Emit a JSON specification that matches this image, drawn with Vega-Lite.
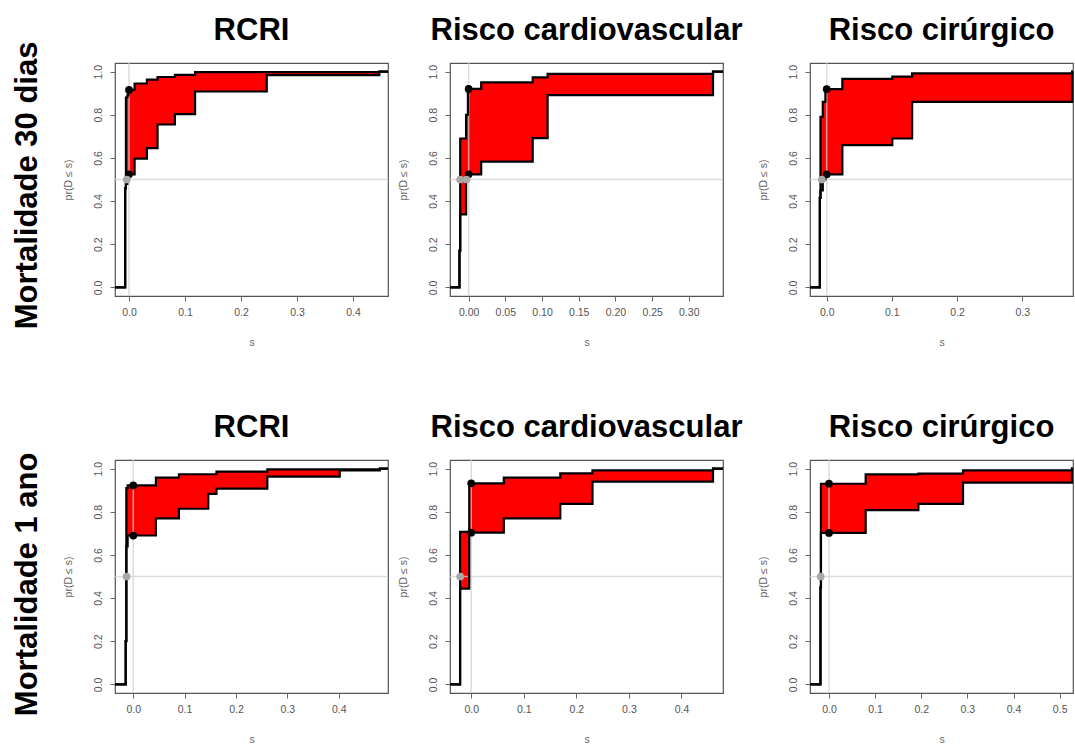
{
  "$schema": "https://vega.github.io/schema/vega-lite/v6.json",
  "background": "white",
  "padding": {"left": 12, "top": 14, "right": 0, "bottom": 0},
  "datasets": {
    "curves": [
      {"panel": 1, "s": -0.025, "lo": 0, "hi": 0},
      {"panel": 1, "s": -0.0068, "lo": 0.46, "hi": 0.46},
      {"panel": 1, "s": -0.0055, "lo": 0.48, "hi": 0.88},
      {"panel": 1, "s": -0.003, "lo": 0.5, "hi": 0.89},
      {"panel": 1, "s": -0.001, "lo": 0.524, "hi": 0.915},
      {"panel": 1, "s": 0.01, "lo": 0.597, "hi": 0.945},
      {"panel": 1, "s": 0.032, "lo": 0.645, "hi": 0.963},
      {"panel": 1, "s": 0.051, "lo": 0.755, "hi": 0.975},
      {"panel": 1, "s": 0.082, "lo": 0.803, "hi": 0.985},
      {"panel": 1, "s": 0.118, "lo": 0.908, "hi": 0.998},
      {"panel": 1, "s": 0.246, "lo": 0.984, "hi": 0.998},
      {"panel": 1, "s": 0.447, "lo": 1, "hi": 1},
      {"panel": 1, "s": 0.4625, "lo": 1, "hi": 1},

      {"panel": 2, "s": -0.0254, "lo": 0, "hi": 0},
      {"panel": 2, "s": -0.0125, "lo": 0.17, "hi": 0.17},
      {"panel": 2, "s": -0.0115, "lo": 0.338, "hi": 0.69},
      {"panel": 2, "s": -0.0035, "lo": 0.5, "hi": 0.8},
      {"panel": 2, "s": -0.001, "lo": 0.524, "hi": 0.92},
      {"panel": 2, "s": 0.0171, "lo": 0.583, "hi": 0.95},
      {"panel": 2, "s": 0.0873, "lo": 0.692, "hi": 0.973},
      {"panel": 2, "s": 0.1076, "lo": 0.891, "hi": 0.99},
      {"panel": 2, "s": 0.333, "lo": 1, "hi": 1},
      {"panel": 2, "s": 0.3466, "lo": 1, "hi": 1},

      {"panel": 3, "s": -0.0256, "lo": 0, "hi": 0},
      {"panel": 3, "s": -0.0105, "lo": 0.415, "hi": 0.415},
      {"panel": 3, "s": -0.0095, "lo": 0.45, "hi": 0.79},
      {"panel": 3, "s": -0.006, "lo": 0.5, "hi": 0.86},
      {"panel": 3, "s": -0.002, "lo": 0.524, "hi": 0.919},
      {"panel": 3, "s": 0.024, "lo": 0.659, "hi": 0.966},
      {"panel": 3, "s": 0.1006, "lo": 0.69, "hi": 0.977},
      {"panel": 3, "s": 0.131, "lo": 0.86, "hi": 0.992},
      {"panel": 3, "s": 0.3766, "lo": 1, "hi": 1},
      {"panel": 3, "s": 0.3777, "lo": 1, "hi": 1},

      {"panel": 4, "s": -0.0356, "lo": 0, "hi": 0},
      {"panel": 4, "s": -0.0148, "lo": 0.2, "hi": 0.2},
      {"panel": 4, "s": -0.0135, "lo": 0.64, "hi": 0.91},
      {"panel": 4, "s": -0.011, "lo": 0.69, "hi": 0.922},
      {"panel": 4, "s": 0.044, "lo": 0.769, "hi": 0.958},
      {"panel": 4, "s": 0.0889, "lo": 0.814, "hi": 0.974},
      {"panel": 4, "s": 0.146, "lo": 0.883, "hi": 0.974},
      {"panel": 4, "s": 0.162, "lo": 0.907, "hi": 0.986},
      {"panel": 4, "s": 0.261, "lo": 0.963, "hi": 0.997},
      {"panel": 4, "s": 0.402, "lo": 0.992, "hi": 0.997},
      {"panel": 4, "s": 0.48, "lo": 1, "hi": 1},
      {"panel": 4, "s": 0.496, "lo": 1, "hi": 1},

      {"panel": 5, "s": -0.0404, "lo": 0, "hi": 0},
      {"panel": 5, "s": -0.0212, "lo": 0.444, "hi": 0.707},
      {"panel": 5, "s": -0.0038, "lo": 0.703, "hi": 0.932},
      {"panel": 5, "s": 0.062, "lo": 0.769, "hi": 0.958},
      {"panel": 5, "s": 0.1694, "lo": 0.837, "hi": 0.978},
      {"panel": 5, "s": 0.2307, "lo": 0.94, "hi": 0.992},
      {"panel": 5, "s": 0.46, "lo": 1, "hi": 1},
      {"panel": 5, "s": 0.479, "lo": 1, "hi": 1},

      {"panel": 6, "s": -0.0412, "lo": 0, "hi": 0},
      {"panel": 6, "s": -0.0185, "lo": 0.45, "hi": 0.45},
      {"panel": 6, "s": -0.0175, "lo": 0.702, "hi": 0.93},
      {"panel": 6, "s": 0.0795, "lo": 0.808, "hi": 0.973},
      {"panel": 6, "s": 0.1937, "lo": 0.837, "hi": 0.977},
      {"panel": 6, "s": 0.2905, "lo": 0.935, "hi": 0.992},
      {"panel": 6, "s": 0.5267, "lo": 1, "hi": 1},
      {"panel": 6, "s": 0.5289, "lo": 1, "hi": 1}
    ],
    "points": [
      {"panel": 1, "s": 0, "p": 0.915, "kind": "a"},
      {"panel": 1, "s": 0, "p": 0.524, "kind": "a"},
      {"panel": 1, "s": -0.004, "p": 0.5, "kind": "b"},
      {"panel": 2, "s": 0, "p": 0.92, "kind": "a"},
      {"panel": 2, "s": 0, "p": 0.524, "kind": "a"},
      {"panel": 2, "s": -0.0115, "p": 0.5, "kind": "b"},
      {"panel": 2, "s": -0.003, "p": 0.5, "kind": "b"},
      {"panel": 3, "s": 0, "p": 0.919, "kind": "a"},
      {"panel": 3, "s": 0, "p": 0.524, "kind": "a"},
      {"panel": 3, "s": -0.0075, "p": 0.5, "kind": "b"},
      {"panel": 4, "s": 0, "p": 0.922, "kind": "a"},
      {"panel": 4, "s": 0, "p": 0.69, "kind": "a"},
      {"panel": 4, "s": -0.013, "p": 0.5, "kind": "b"},
      {"panel": 5, "s": 0, "p": 0.932, "kind": "a"},
      {"panel": 5, "s": 0, "p": 0.703, "kind": "a"},
      {"panel": 5, "s": -0.021, "p": 0.5, "kind": "b"},
      {"panel": 6, "s": 0, "p": 0.93, "kind": "a"},
      {"panel": 6, "s": 0, "p": 0.702, "kind": "a"},
      {"panel": 6, "s": -0.018, "p": 0.5, "kind": "b"}
    ]
  },
  "config": {
    "view": {"stroke": "#555555", "strokeWidth": 1.2},
    "axis": {"grid": false, "domain": false, "tickColor": "#666666", "tickSize": 5, "labelFontSize": 10.5, "labelColor": "#555555", "labelFont": "Liberation Sans", "titleFont": "Liberation Sans", "titleFontSize": 10.5, "titleFontWeight": "normal", "titleColor": "#666666"},
    "axisX": {"labelPadding": 6.5, "titlePadding": 19},
    "axisY": {"labelAngle": -90, "labelAlign": "center", "labelBaseline": "bottom", "labelPadding": 7, "titlePadding": 20},
    "title": {"font": "Liberation Sans", "fontSize": 31, "fontWeight": "bold", "color": "#000000", "baseline": "alphabetic", "offset": 15, "anchor": "middle"}
  },
  "spacing": 62,
  "vconcat": [
    {
      "title": {"text": "Mortalidade 30 dias", "orient": "left", "anchor": "middle", "offset": 24, "dy": 6, "dx": -4},
      "spacing": 4,
      "hconcat": [
        {
          "width": 273, "height": 233, "title": {"text": "RCRI"},
          "data": {"name": "curves"}, "transform": [{"filter": "datum.panel == 1"}],
          "layer": [
            {"mark": {"type": "area", "interpolate": "step-after", "color": "#ff0000"},
             "encoding": {
               "x": {"field": "s", "type": "quantitative", "scale": {"domain": [-0.025, 0.4625], "nice": false, "zero": false}, "axis": {"values": [0, 0.1, 0.2, 0.3, 0.4], "format": ".1f", "title": "s"}},
               "y": {"field": "lo", "type": "quantitative", "scale": {"domain": [-0.04, 1.04], "nice": false, "zero": false}, "axis": {"values": [0, 0.2, 0.4, 0.6, 0.8, 1], "format": ".1f", "title": "pr(D ≤ s)"}},
               "y2": {"field": "hi"}}},
            {"data": {"values": [{}]}, "mark": {"type": "rule", "color": "#d0d0d0", "strokeWidth": 1.5, "opacity": 0.75}, "encoding": {"y": {"datum": 0.5}}},
            {"data": {"values": [{}]}, "mark": {"type": "rule", "color": "#d0d0d0", "strokeWidth": 1.5, "opacity": 0.75}, "encoding": {"x": {"datum": 0}}},
            {"mark": {"type": "line", "interpolate": "step-after", "color": "#000000", "strokeWidth": 2.2}, "encoding": {"x": {"field": "s", "type": "quantitative"}, "y": {"field": "lo", "type": "quantitative"}}},
            {"mark": {"type": "line", "interpolate": "step-after", "color": "#000000", "strokeWidth": 2.2}, "encoding": {"x": {"field": "s", "type": "quantitative"}, "y": {"field": "hi", "type": "quantitative"}}},
            {"data": {"name": "points"}, "transform": [{"filter": "datum.panel == 1"}], "mark": {"type": "point", "filled": true, "size": 60, "opacity": 1},
             "encoding": {"x": {"field": "s", "type": "quantitative"}, "y": {"field": "p", "type": "quantitative"}, "color": {"field": "kind", "type": "nominal", "scale": {"domain": ["a", "b"], "range": ["#000000", "#a8a8a8"]}, "legend": null}}}
          ]
        },
        {
          "spacing": 13,
          "hconcat": [
            {
              "width": 273, "height": 233, "title": {"text": "Risco cardiovascular"},
              "data": {"name": "curves"}, "transform": [{"filter": "datum.panel == 2"}],
              "layer": [
                {"mark": {"type": "area", "interpolate": "step-after", "color": "#ff0000"},
                 "encoding": {
                   "x": {"field": "s", "type": "quantitative", "scale": {"domain": [-0.0254, 0.3466], "nice": false, "zero": false}, "axis": {"values": [0, 0.05, 0.1, 0.15, 0.2, 0.25, 0.3], "format": ".2f", "title": "s"}},
                   "y": {"field": "lo", "type": "quantitative", "scale": {"domain": [-0.04, 1.04], "nice": false, "zero": false}, "axis": {"values": [0, 0.2, 0.4, 0.6, 0.8, 1], "format": ".1f", "title": "pr(D ≤ s)"}},
                   "y2": {"field": "hi"}}},
                {"data": {"values": [{}]}, "mark": {"type": "rule", "color": "#d0d0d0", "strokeWidth": 1.5, "opacity": 0.75}, "encoding": {"y": {"datum": 0.5}}},
                {"data": {"values": [{}]}, "mark": {"type": "rule", "color": "#d0d0d0", "strokeWidth": 1.5, "opacity": 0.75}, "encoding": {"x": {"datum": 0}}},
                {"mark": {"type": "line", "interpolate": "step-after", "color": "#000000", "strokeWidth": 2.2}, "encoding": {"x": {"field": "s", "type": "quantitative"}, "y": {"field": "lo", "type": "quantitative"}}},
                {"mark": {"type": "line", "interpolate": "step-after", "color": "#000000", "strokeWidth": 2.2}, "encoding": {"x": {"field": "s", "type": "quantitative"}, "y": {"field": "hi", "type": "quantitative"}}},
                {"data": {"name": "points"}, "transform": [{"filter": "datum.panel == 2"}], "mark": {"type": "point", "filled": true, "size": 60, "opacity": 1},
                 "encoding": {"x": {"field": "s", "type": "quantitative"}, "y": {"field": "p", "type": "quantitative"}, "color": {"field": "kind", "type": "nominal", "scale": {"domain": ["a", "b"], "range": ["#000000", "#a8a8a8"]}, "legend": null}}}
              ]
            },
            {
              "width": 263, "height": 233, "title": {"text": "Risco cirúrgico"},
              "data": {"name": "curves"}, "transform": [{"filter": "datum.panel == 3"}],
              "layer": [
                {"mark": {"type": "area", "interpolate": "step-after", "color": "#ff0000"},
                 "encoding": {
                   "x": {"field": "s", "type": "quantitative", "scale": {"domain": [-0.0256, 0.3777], "nice": false, "zero": false}, "axis": {"values": [0, 0.1, 0.2, 0.3], "format": ".1f", "title": "s"}},
                   "y": {"field": "lo", "type": "quantitative", "scale": {"domain": [-0.04, 1.04], "nice": false, "zero": false}, "axis": {"values": [0, 0.2, 0.4, 0.6, 0.8, 1], "format": ".1f", "title": "pr(D ≤ s)"}},
                   "y2": {"field": "hi"}}},
                {"data": {"values": [{}]}, "mark": {"type": "rule", "color": "#d0d0d0", "strokeWidth": 1.5, "opacity": 0.75}, "encoding": {"y": {"datum": 0.5}}},
                {"data": {"values": [{}]}, "mark": {"type": "rule", "color": "#d0d0d0", "strokeWidth": 1.5, "opacity": 0.75}, "encoding": {"x": {"datum": 0}}},
                {"mark": {"type": "line", "interpolate": "step-after", "color": "#000000", "strokeWidth": 2.2}, "encoding": {"x": {"field": "s", "type": "quantitative"}, "y": {"field": "lo", "type": "quantitative"}}},
                {"mark": {"type": "line", "interpolate": "step-after", "color": "#000000", "strokeWidth": 2.2}, "encoding": {"x": {"field": "s", "type": "quantitative"}, "y": {"field": "hi", "type": "quantitative"}}},
                {"data": {"name": "points"}, "transform": [{"filter": "datum.panel == 3"}], "mark": {"type": "point", "filled": true, "size": 60, "opacity": 1},
                 "encoding": {"x": {"field": "s", "type": "quantitative"}, "y": {"field": "p", "type": "quantitative"}, "color": {"field": "kind", "type": "nominal", "scale": {"domain": ["a", "b"], "range": ["#000000", "#a8a8a8"]}, "legend": null}}}
              ]
            }
          ]
        }
      ]
    },
    {
      "title": {"text": "Mortalidade 1 ano", "orient": "left", "anchor": "middle", "offset": 24, "dy": 6, "dx": -6},
      "spacing": 4,
      "hconcat": [
        {
          "width": 273, "height": 233, "title": {"text": "RCRI"},
          "data": {"name": "curves"}, "transform": [{"filter": "datum.panel == 4"}],
          "layer": [
            {"mark": {"type": "area", "interpolate": "step-after", "color": "#ff0000"},
             "encoding": {
               "x": {"field": "s", "type": "quantitative", "scale": {"domain": [-0.0356, 0.496], "nice": false, "zero": false}, "axis": {"values": [0, 0.1, 0.2, 0.3, 0.4], "format": ".1f", "title": "s"}},
               "y": {"field": "lo", "type": "quantitative", "scale": {"domain": [-0.04, 1.04], "nice": false, "zero": false}, "axis": {"values": [0, 0.2, 0.4, 0.6, 0.8, 1], "format": ".1f", "title": "pr(D ≤ s)"}},
               "y2": {"field": "hi"}}},
            {"data": {"values": [{}]}, "mark": {"type": "rule", "color": "#d0d0d0", "strokeWidth": 1.5, "opacity": 0.75}, "encoding": {"y": {"datum": 0.5}}},
            {"data": {"values": [{}]}, "mark": {"type": "rule", "color": "#d0d0d0", "strokeWidth": 1.5, "opacity": 0.75}, "encoding": {"x": {"datum": 0}}},
            {"mark": {"type": "line", "interpolate": "step-after", "color": "#000000", "strokeWidth": 2.2}, "encoding": {"x": {"field": "s", "type": "quantitative"}, "y": {"field": "lo", "type": "quantitative"}}},
            {"mark": {"type": "line", "interpolate": "step-after", "color": "#000000", "strokeWidth": 2.2}, "encoding": {"x": {"field": "s", "type": "quantitative"}, "y": {"field": "hi", "type": "quantitative"}}},
            {"data": {"name": "points"}, "transform": [{"filter": "datum.panel == 4"}], "mark": {"type": "point", "filled": true, "size": 60, "opacity": 1},
             "encoding": {"x": {"field": "s", "type": "quantitative"}, "y": {"field": "p", "type": "quantitative"}, "color": {"field": "kind", "type": "nominal", "scale": {"domain": ["a", "b"], "range": ["#000000", "#a8a8a8"]}, "legend": null}}}
          ]
        },
        {
          "spacing": 13,
          "hconcat": [
            {
              "width": 273, "height": 233, "title": {"text": "Risco cardiovascular"},
              "data": {"name": "curves"}, "transform": [{"filter": "datum.panel == 5"}],
              "layer": [
                {"mark": {"type": "area", "interpolate": "step-after", "color": "#ff0000"},
                 "encoding": {
                   "x": {"field": "s", "type": "quantitative", "scale": {"domain": [-0.0404, 0.479], "nice": false, "zero": false}, "axis": {"values": [0, 0.1, 0.2, 0.3, 0.4], "format": ".1f", "title": "s"}},
                   "y": {"field": "lo", "type": "quantitative", "scale": {"domain": [-0.04, 1.04], "nice": false, "zero": false}, "axis": {"values": [0, 0.2, 0.4, 0.6, 0.8, 1], "format": ".1f", "title": "pr(D ≤ s)"}},
                   "y2": {"field": "hi"}}},
                {"data": {"values": [{}]}, "mark": {"type": "rule", "color": "#d0d0d0", "strokeWidth": 1.5, "opacity": 0.75}, "encoding": {"y": {"datum": 0.5}}},
                {"data": {"values": [{}]}, "mark": {"type": "rule", "color": "#d0d0d0", "strokeWidth": 1.5, "opacity": 0.75}, "encoding": {"x": {"datum": 0}}},
                {"mark": {"type": "line", "interpolate": "step-after", "color": "#000000", "strokeWidth": 2.2}, "encoding": {"x": {"field": "s", "type": "quantitative"}, "y": {"field": "lo", "type": "quantitative"}}},
                {"mark": {"type": "line", "interpolate": "step-after", "color": "#000000", "strokeWidth": 2.2}, "encoding": {"x": {"field": "s", "type": "quantitative"}, "y": {"field": "hi", "type": "quantitative"}}},
                {"data": {"name": "points"}, "transform": [{"filter": "datum.panel == 5"}], "mark": {"type": "point", "filled": true, "size": 60, "opacity": 1},
                 "encoding": {"x": {"field": "s", "type": "quantitative"}, "y": {"field": "p", "type": "quantitative"}, "color": {"field": "kind", "type": "nominal", "scale": {"domain": ["a", "b"], "range": ["#000000", "#a8a8a8"]}, "legend": null}}}
              ]
            },
            {
              "width": 263, "height": 233, "title": {"text": "Risco cirúrgico"},
              "data": {"name": "curves"}, "transform": [{"filter": "datum.panel == 6"}],
              "layer": [
                {"mark": {"type": "area", "interpolate": "step-after", "color": "#ff0000"},
                 "encoding": {
                   "x": {"field": "s", "type": "quantitative", "scale": {"domain": [-0.0412, 0.5289], "nice": false, "zero": false}, "axis": {"values": [0, 0.1, 0.2, 0.3, 0.4, 0.5], "format": ".1f", "title": "s"}},
                   "y": {"field": "lo", "type": "quantitative", "scale": {"domain": [-0.04, 1.04], "nice": false, "zero": false}, "axis": {"values": [0, 0.2, 0.4, 0.6, 0.8, 1], "format": ".1f", "title": "pr(D ≤ s)"}},
                   "y2": {"field": "hi"}}},
                {"data": {"values": [{}]}, "mark": {"type": "rule", "color": "#d0d0d0", "strokeWidth": 1.5, "opacity": 0.75}, "encoding": {"y": {"datum": 0.5}}},
                {"data": {"values": [{}]}, "mark": {"type": "rule", "color": "#d0d0d0", "strokeWidth": 1.5, "opacity": 0.75}, "encoding": {"x": {"datum": 0}}},
                {"mark": {"type": "line", "interpolate": "step-after", "color": "#000000", "strokeWidth": 2.2}, "encoding": {"x": {"field": "s", "type": "quantitative"}, "y": {"field": "lo", "type": "quantitative"}}},
                {"mark": {"type": "line", "interpolate": "step-after", "color": "#000000", "strokeWidth": 2.2}, "encoding": {"x": {"field": "s", "type": "quantitative"}, "y": {"field": "hi", "type": "quantitative"}}},
                {"data": {"name": "points"}, "transform": [{"filter": "datum.panel == 6"}], "mark": {"type": "point", "filled": true, "size": 60, "opacity": 1},
                 "encoding": {"x": {"field": "s", "type": "quantitative"}, "y": {"field": "p", "type": "quantitative"}, "color": {"field": "kind", "type": "nominal", "scale": {"domain": ["a", "b"], "range": ["#000000", "#a8a8a8"]}, "legend": null}}}
              ]
            }
          ]
        }
      ]
    }
  ]
}
